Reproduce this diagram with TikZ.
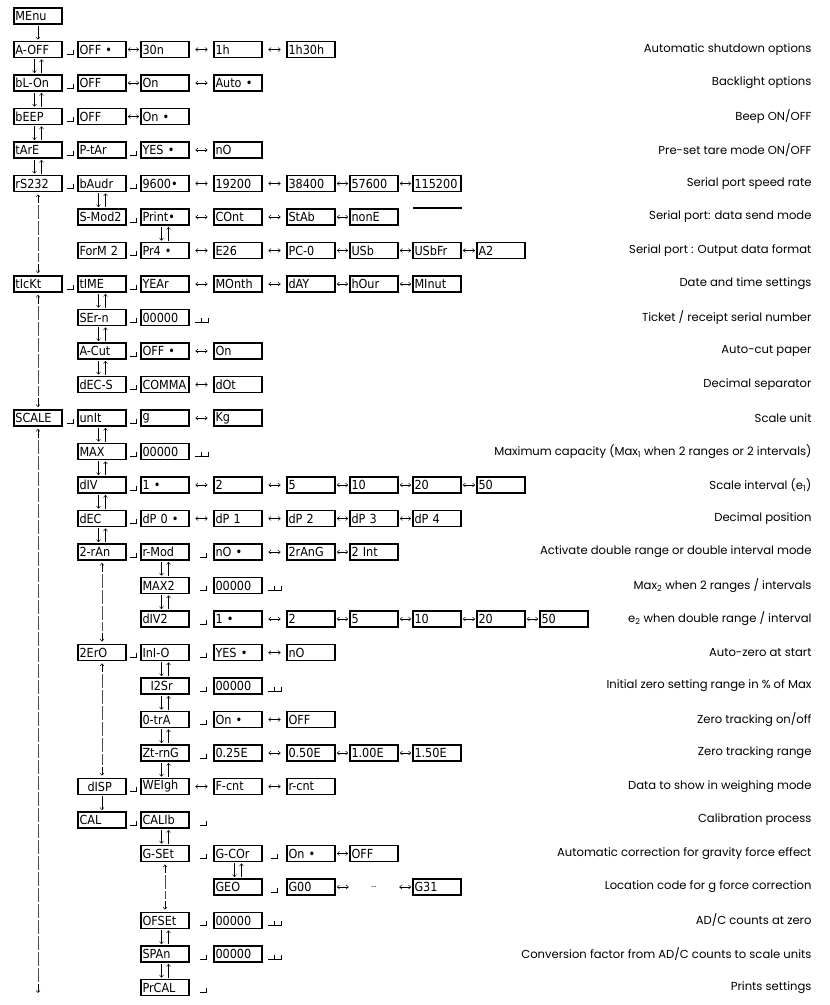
\documentclass[tikz,border=0pt]{standalone}
\usepackage{fontspec}
\setmainfont{Poppins}
\newfontfamily\segfont{DejaVu Sans Condensed}
\usetikzlibrary{arrows.meta}
\tikzset{
 bx/.style={draw,line width=1.8pt,minimum width=48pt,minimum height=16pt,inner sep=0pt,
   text width=45pt,align=left,font=\segfont\fontsize{12.5}{13}\selectfont},
 dots/.style={minimum width=48pt,minimum height=16pt,inner sep=0pt,font=\fontsize{8}{9}\selectfont},
 lab/.style={anchor=east,font=\fontsize{11.6}{13}\selectfont},
 tip/.style={>={Straight Barb[length=2.2pt,width=4pt]}},
 lr/.style={tip,<->,line width=0.5pt,shorten <=5.5pt,shorten >=5.5pt},
 lrs/.style={tip,<->,line width=0.5pt,shorten <=1pt,shorten >=1pt},
 vt/.style={tip,->,line width=0.5pt,shorten <=1pt,shorten >=1pt},
 lgend/.style={tip,->,line width=0.5pt},
 lgline/.style={line width=0.4pt,gray!60!black,dash pattern=on 14pt off 2pt,shorten <=13pt,shorten >=13pt},
 entr/.style={line width=0.6pt}
}
\newcommand\ent[2]{\draw[entr] (#1+3,#2+0.5)--(#1+3,#2+5)--(#1-3,#2+5);}
\newcommand\dent[2]{\ent{#1}{#2}\ent{#1+7}{#2}}
\newcommand\ud[2]{\draw[vt] ([xshift=-3.5pt]#1.south) -- ([xshift=-3.5pt]#2.north);
 \draw[vt] ([xshift=3.5pt]#2.north) -- ([xshift=3.5pt]#1.south);}
\newcommand\longlink[2]{\draw[lgend] (#1.south) ++(0,11) -- ([yshift=-2pt]#1.south);
 \draw[lgline] (#1.south) -- (#2.north);
 \draw[lgend] (#2.north) ++(0,-11) -- ([yshift=2pt]#2.north);}
\begin{document}
\begin{tikzpicture}[x=1pt,y=-1pt]
\useasboundingbox (0,0) rectangle (830,1005);
\node[bx] (menu) at (38,16) {MEnu};
\node[bx] (aoff) at (38,49.5) {A-OFF};
\node[bx] (aoff1) at (102,49.5) {OFF \textbullet};
\node[bx] (aoff2) at (165,49.5) {30n};
\node[bx] (aoff3) at (238,49.5) {1h};
\node[bx] (aoff4) at (311,49.5) {1h30h};
\ent{70}{49.5}
\draw[lrs] (aoff1)--(aoff2); \draw[lr] (aoff2)--(aoff3); \draw[lr] (aoff3)--(aoff4);
\node[lab] at (815,49.5) {Automatic shutdown options};
\node[bx] (bl) at (38,83) {bL-On};
\node[bx] (bl1) at (102,83) {OFF};
\node[bx] (bl2) at (165,83) {On};
\node[bx] (bl3) at (238,83) {Auto \textbullet};
\ent{70}{83}
\draw[lrs] (bl1)--(bl2); \draw[lr] (bl2)--(bl3);
\node[lab] at (815,83) {Backlight options};
\node[bx] (beep) at (38,116.5) {bEEP};
\node[bx] (beep1) at (102,116.5) {OFF};
\node[bx] (beep2) at (165,116.5) {On \textbullet};
\ent{70}{116.5}
\draw[lrs] (beep1)--(beep2);
\node[lab] at (815,116.5) {Beep ON/OFF};
\node[bx] (tare) at (38,150) {tArE};
\node[bx] (tare1) at (102,150) {P-tAr};
\node[bx] (tare2) at (165,150) {YES \textbullet};
\node[bx] (tare3) at (238,150) {nO};
\ent{70}{150}\ent{133}{150}
\draw[lr] (tare2)--(tare3);
\node[lab] at (815,150) {Pre-set tare mode ON/OFF};
\node[bx] (rs) at (38,183.5) {rS232};
\node[bx] (baud) at (102,183.5) {bAudr};
\node[bx] (b1) at (165,183.5) {9600\textbullet};
\node[bx] (b2) at (238,183.5) {19200};
\node[bx] (b3) at (311,183.5) {38400};
\node[bx] (b4) at (374,183.5) {57600};
\node[bx] (b5) at (437,183.5) {115200};
\ent{70}{183.5}\ent{133}{183.5}
\draw[lr] (b1)--(b2); \draw[lr] (b2)--(b3); \draw[lrs] (b3)--(b4); \draw[lrs] (b4)--(b5);
\node[lab] at (815,183.5) {Serial port speed rate};
\node[bx] (smod) at (102,217) {S-Mod2};
\node[bx] (s1) at (165,217) {Print\textbullet};
\node[bx] (s2) at (238,217) {COnt};
\node[bx] (s3) at (311,217) {StAb};
\node[bx] (s4) at (374,217) {nonE};
\ent{133}{217}
\draw[lr] (s1)--(s2); \draw[lr] (s2)--(s3); \draw[lrs] (s3)--(s4);
\draw[line width=1.6pt] (413,208)--(462,208);
\node[lab] at (815,217) {Serial port: data send mode};
\node[bx] (form) at (102,250.5) {ForM 2};
\node[bx] (f1) at (165,250.5) {Pr4 \textbullet};
\node[bx] (f2) at (238,250.5) {E26};
\node[bx] (f3) at (311,250.5) {PC-0};
\node[bx] (f4) at (374,250.5) {USb};
\node[bx] (f5) at (437,250.5) {USbFr};
\node[bx] (f6) at (501,250.5) {A2};
\ent{133}{250.5}
\draw[lr] (f1)--(f2); \draw[lr] (f2)--(f3); \draw[lrs] (f3)--(f4); \draw[lrs] (f4)--(f5); \draw[lrs] (f5)--(f6);
\node[lab] at (815,250.5) {Serial port : Output data format};
\node[bx] (tick) at (38,284) {tIcKt};
\node[bx] (time) at (102,284) {tIME};
\node[bx] (t1) at (165,284) {YEAr};
\node[bx] (t2) at (238,284) {MOnth};
\node[bx] (t3) at (311,284) {dAY};
\node[bx] (t4) at (374,284) {hOur};
\node[bx] (t5) at (437,284) {MInut};
\ent{70}{284}\ent{133}{284}
\draw[lr] (t1)--(t2); \draw[lr] (t2)--(t3); \draw[lrs] (t3)--(t4); \draw[lrs] (t4)--(t5);
\node[lab] at (815,284) {Date and time settings};
\node[bx] (sern) at (102,317.5) {SEr-n};
\node[bx] (sern1) at (165,317.5) {00000};
\ent{133}{317.5}\dent{198}{317.5}
\node[lab] at (815,317.5) {Ticket / receipt serial number};
\node[bx] (acut) at (102,351) {A-Cut};
\node[bx] (acut1) at (165,351) {OFF \textbullet};
\node[bx] (acut2) at (238,351) {On};
\ent{133}{351}
\draw[lr] (acut1)--(acut2);
\node[lab] at (815,351) {Auto-cut paper};
\node[bx] (decs) at (102,384.5) {dEC-S};
\node[bx] (decs1) at (165,384.5) {COMMA};
\node[bx] (decs2) at (238,384.5) {dOt};
\ent{133}{384.5}
\draw[lr] (decs1)--(decs2);
\node[lab] at (815,384.5) {Decimal separator};
\node[bx] (scale) at (38,418) {SCALE};
\node[bx] (unit) at (102,418) {unIt};
\node[bx] (u1) at (165,418) {g};
\node[bx] (u2) at (238,418) {Kg};
\ent{70}{418}\ent{133}{418}
\draw[lr] (u1)--(u2);
\node[lab] at (815,418) {Scale unit};
\node[bx] (max) at (102,451.5) {MAX};
\node[bx] (max1) at (165,451.5) {00000};
\ent{133}{451.5}\dent{198}{451.5}
\node[lab] at (815,451.5) {Maximum capacity (Max\textsubscript{1} when 2 ranges or 2 intervals)};
\node[bx] (div) at (102,485) {dIV};
\node[bx] (d1) at (165,485) {1 \textbullet};
\node[bx] (d2) at (238,485) {2};
\node[bx] (d3) at (311,485) {5};
\node[bx] (d4) at (374,485) {10};
\node[bx] (d5) at (437,485) {20};
\node[bx] (d6) at (501,485) {50};
\ent{133}{485}
\draw[lr] (d1)--(d2); \draw[lr] (d2)--(d3); \draw[lrs] (d3)--(d4); \draw[lrs] (d4)--(d5); \draw[lrs] (d5)--(d6);
\node[lab] at (815,485) {Scale interval (e\textsubscript{1})};
\node[bx] (dec) at (102,518.5) {dEC};
\node[bx] (p1) at (165,518.5) {dP 0 \textbullet};
\node[bx] (p2) at (238,518.5) {dP 1};
\node[bx] (p3) at (311,518.5) {dP 2};
\node[bx] (p4) at (374,518.5) {dP 3};
\node[bx] (p5) at (437,518.5) {dP 4};
\ent{133}{518.5}
\draw[lr] (p1)--(p2); \draw[lr] (p2)--(p3); \draw[lrs] (p3)--(p4); \draw[lrs] (p4)--(p5);
\node[lab] at (815,518.5) {Decimal position};
\node[bx] (tran) at (102,552) {2-rAn};
\node[bx] (rmod) at (165,552) {r-Mod};
\node[bx] (r1) at (238,552) {nO \textbullet};
\node[bx] (r2) at (311,552) {2rAnG};
\node[bx] (r3) at (374,552) {2 Int};
\ent{133}{552}\ent{203}{552}
\draw[lr] (r1)--(r2); \draw[lrs] (r2)--(r3);
\node[lab] at (815,552) {Activate double range or double interval mode};
\node[bx] (max2) at (165,585.5) {MAX2};
\node[bx] (max21) at (238,585.5) {00000};
\ent{203}{585.5}\dent{271}{585.5}
\node[lab] at (815,585.5) {Max\textsubscript{2} when 2 ranges / intervals};
\node[bx] (div2) at (165,619) {dIV2};
\node[bx] (e1) at (238,619) {1 \textbullet};
\node[bx] (e2) at (311,619) {2};
\node[bx] (e3) at (374,619) {5};
\node[bx] (e4) at (437,619) {10};
\node[bx] (e5) at (501,619) {20};
\node[bx] (e6) at (564,619) {50};
\ent{203}{619}
\draw[lr] (e1)--(e2); \draw[lrs] (e2)--(e3); \draw[lrs] (e3)--(e4); \draw[lrs] (e4)--(e5); \draw[lrs] (e5)--(e6);
\node[lab] at (815,619) {e\textsubscript{2} when double range / interval};
\node[bx] (zero) at (102,652.5) {2ErO};
\node[bx] (ini) at (165,652.5) {InI-O};
\node[bx] (i1) at (238,652.5) {YES \textbullet};
\node[bx] (i2) at (311,652.5) {nO};
\ent{133}{652.5}\ent{203}{652.5}
\draw[lr] (i1)--(i2);
\node[lab] at (815,652.5) {Auto-zero at start};
\node[bx] (isr) at (165,686) {\hspace*{8pt}I2Sr};
\node[bx] (isr1) at (238,686) {00000};
\ent{203}{686}\dent{271}{686}
\node[lab] at (815,686) {Initial zero setting range in \% of Max};
\node[bx] (otra) at (165,719.5) {0-trA};
\node[bx] (o1) at (238,719.5) {On \textbullet};
\node[bx] (o2) at (311,719.5) {OFF};
\ent{203}{719.5}
\draw[lr] (o1)--(o2);
\node[lab] at (815,719.5) {Zero tracking on/off};
\node[bx] (ztr) at (165,753) {Zt-rnG};
\node[bx] (z1) at (238,753) {0.25E};
\node[bx] (z2) at (311,753) {0.50E};
\node[bx] (z3) at (374,753) {1.00E};
\node[bx] (z4) at (437,753) {1.50E};
\ent{203}{753}
\draw[lr] (z1)--(z2); \draw[lrs] (z2)--(z3); \draw[lrs] (z3)--(z4);
\node[lab] at (815,753) {Zero tracking range};
\node[bx] (disp) at (102,786.5) {\hspace*{8pt}dISP};
\node[bx] (wei) at (165,786.5) {WEIgh};
\node[bx] (w1) at (238,786.5) {F-cnt};
\node[bx] (w2) at (311,786.5) {r-cnt};
\ent{133}{786.5}
\draw[lr] (wei)--(w1); \draw[lr] (w1)--(w2);
\node[lab] at (815,786.5) {Data to show in weighing mode};
\node[bx] (cal) at (102,820) {CAL};
\node[bx] (calib) at (165,820) {CALIb};
\ent{133}{820}\ent{203}{820}
\node[lab] at (815,820) {Calibration process};
\node[bx] (gset) at (165,853.5) {G-SEt};
\node[bx] (gcor) at (238,853.5) {G-COr};
\node[bx] (g1) at (311,853.5) {On \textbullet};
\node[bx] (g2) at (374,853.5) {OFF};
\ent{203}{853.5}\ent{274}{853.5}
\draw[lrs] (g1)--(g2);
\node[lab] at (815,853.5) {Automatic correction for gravity force effect};
\node[bx] (geo) at (238,887) {GEO};
\node[bx] (geo1) at (311,887) {G00};
\node[dots] (geod) at (374,887) {...};
\node[bx] (geo2) at (437,887) {G31};
\ent{274}{887}
\draw[lrs] (geo1)--(geod); \draw[lrs] (geod)--(geo2);
\node[lab] at (815,887) {Location code for g force correction};
\node[bx] (ofs) at (165,920.5) {OFSEt};
\node[bx] (ofs1) at (238,920.5) {00000};
\ent{203}{920.5}\dent{271}{920.5}
\node[lab] at (815,920.5) {AD/C counts at zero};
\node[bx] (span) at (165,954) {SPAn};
\node[bx] (span1) at (238,954) {00000};
\ent{203}{954}\dent{271}{954}
\node[lab] at (815,954) {Conversion factor from AD/C counts to scale units};
\node[bx] (prcal) at (165,987.5) {PrCAL};
\ent{203}{987.5}
\node[lab] at (815,987.5) {Prints settings};
\draw[vt] (menu) -- (aoff);
\ud{aoff}{bl}\ud{bl}{beep}\ud{beep}{tare}\ud{tare}{rs}
\ud{baud}{smod}\ud{s1}{f1}
\ud{time}{sern}\ud{sern}{acut}\ud{acut}{decs}
\ud{unit}{max}\ud{max}{div}\ud{div}{dec}\ud{dec}{tran}
\ud{rmod}{max2}\ud{max2}{div2}
\ud{ini}{isr}\ud{isr}{otra}\ud{otra}{ztr}\ud{ztr}{wei}
\draw[vt] (disp) -- (cal);
\ud{calib}{gset}\ud{gcor}{geo}
\ud{ofs}{span}\ud{span}{prcal}
\coordinate (bottom) at (38,995);
\longlink{rs}{tick}
\longlink{tick}{scale}
\longlink{scale}{bottom}
\longlink{tran}{zero}
\longlink{zero}{disp}
\longlink{gset}{ofs}
\end{tikzpicture}
\end{document}
